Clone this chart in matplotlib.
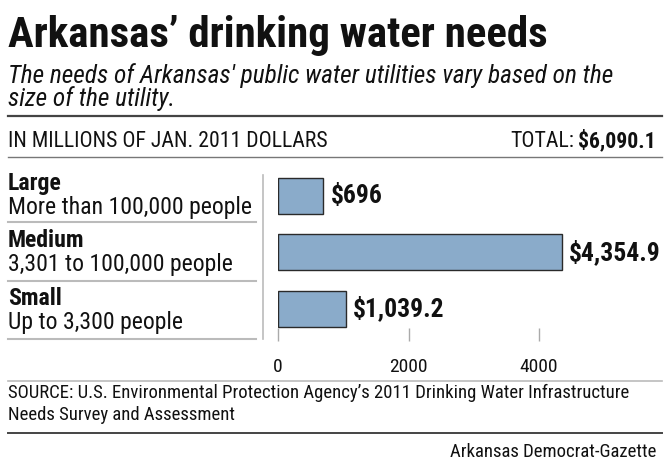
import matplotlib
matplotlib.use("Agg")
import matplotlib.pyplot as plt
from matplotlib.lines import Line2D

# data
sizes = ["Large", "Medium", "Small"]
size_notes = ["More than 100,000 people", "3,301 to 100,000 people", "Up to 3,300 people"]
needs = [696, 4354.9, 1039.2]
need_labels = ["$696", "$4,354.9", "$1,039.2"]
ticks = [0, 2000, 4000]
total_label = "$6,090.1"

W, H = 670, 469
COND = ["Roboto Condensed", "DejaVu Sans"]
INK = "#111111"

fig = plt.figure(figsize=(W / 100, H / 100), dpi=100)
renderer = fig.canvas.get_renderer()


def fx(px):
    return px / W


def fy(py):
    return 1 - py / H


def hline(y, x0, x1, color, lw):
    fig.add_artist(Line2D([fx(x0), fx(x1)], [fy(y), fy(y)], color=color, lw=lw,
                          transform=fig.transFigure))


def fit(t, width):
    # scale font so the text spans the width seen in the reference
    w = t.get_window_extent(renderer).width
    t.set_fontsize(t.get_fontsize() * width / w)
    return t.get_fontsize()


# header
t = fig.text(fx(8), fy(47), "Arkansas\u2019 drinking water needs", family=COND,
             weight="heavy", fontsize=34, va="baseline", color=INK)
fit(t, 540)
t = fig.text(fx(8), fy(83), "The needs of Arkansas' public water utilities vary based on the",
             family=COND, style="italic", fontsize=17, va="baseline", color=INK)
sub_fs = fit(t, 606)
fig.text(fx(8), fy(106), "size of the utility.",
         family=COND, style="italic", fontsize=sub_fs, va="baseline", color=INK)
hline(116, 8, 662, "#444444", 1.6)

t = fig.text(fx(8), fy(147), "IN MILLIONS OF JAN. 2011 DOLLARS", family=COND,
             fontsize=13, va="baseline", color=INK)
hdr_fs = fit(t, 319)
t = fig.text(fx(656), fy(147), total_label, family=COND, weight="bold",
             fontsize=hdr_fs, va="baseline", ha="right", color=INK)
bb = t.get_window_extent(renderer)
fig.text(bb.x0 / W - fx(4), fy(147), "TOTAL:", family=COND, fontsize=hdr_fs,
         va="baseline", ha="right", color=INK)
hline(157, 8, 662, "#777777", 1.0)

# category labels on the left
row_top = [175, 232, 290]
name_texts, note_texts = [], []
for i, (name, note) in enumerate(zip(sizes, size_notes)):
    name_texts.append(fig.text(fx(8), fy(row_top[i] + 15), name, family=COND,
                               weight="bold", fontsize=15, va="baseline", color=INK))
    note_texts.append(fig.text(fx(8), fy(row_top[i] + 39), note, family=COND,
                               fontsize=15, va="baseline", color=INK))
note_fs = fit(note_texts[0], 244)
for txt in name_texts + note_texts:
    txt.set_fontsize(note_fs)
for y in [222, 281, 339]:
    hline(y, 8, 256, "#bbbbbb", 1.5)
fig.add_artist(Line2D([fx(263), fx(263)], [fy(175), fy(339)], color="#bbbbbb",
                      lw=1.2, transform=fig.transFigure))

# bar axes: 0 -> x=278, 4000 -> x=539
scale = (539 - 278) / 4000
xmax = (662 - 278) / scale
ax_top, ax_bot = 168, 341
centers = [196, 250.5, 308.5]
step = 56.25
y_top = -(centers[0] - ax_top) / step
y_bot = 2 + (ax_bot - centers[2]) / step
ax = fig.add_axes([fx(278), fy(ax_bot), (662 - 278) / W, (ax_bot - ax_top) / H])
ypos = list(range(len(sizes)))
ax.barh(ypos, needs, height=36 / step, color="#8aabca", edgecolor="#2a2a2a",
        linewidth=1.0)
val_texts = []
for yv, v, lab in zip(ypos, needs, need_labels):
    val_texts.append(ax.text(v + 7 / scale, yv, lab, family=COND, weight="bold",
                             fontsize=15, va="center", ha="left", color=INK))
val_fs = fit(val_texts[1], 92)
for vt in val_texts:
    vt.set_fontsize(val_fs)
ax.set_xlim(0, xmax)
ax.set_ylim(y_bot, y_top)
ax.set_yticks([])
ax.set_xticks(ticks)
ax.set_xticklabels([str(v) for v in ticks])
ax.tick_params(axis="x", direction="in", length=9.5, width=1.0, color="#aaaaaa",
               pad=12, labelsize=14, labelcolor=INK)
for lab in ax.get_xticklabels():
    lab.set_fontfamily(COND)
for s in ax.spines.values():
    s.set_visible(False)
ax.patch.set_visible(False)

hline(381, 8, 662, "#bbbbbb", 1.2)

# footer
t = fig.text(fx(8), fy(398), "SOURCE: U.S. Environmental Protection Agency\u2019s 2011 Drinking Water Infrastructure",
             family=COND, fontsize=11.5, va="baseline", color=INK)
src_fs = fit(t, 622)
fig.text(fx(8), fy(420), "Needs Survey and Assessment",
         family=COND, fontsize=src_fs, va="baseline", color=INK)
hline(433, 8, 662, "#444444", 1.4)
fig.text(fx(656), fy(457), "Arkansas Democrat-Gazette", family=COND,
         fontsize=src_fs, va="baseline", ha="right", color=INK)

fig.savefig("out.png", dpi=100, facecolor="white")
